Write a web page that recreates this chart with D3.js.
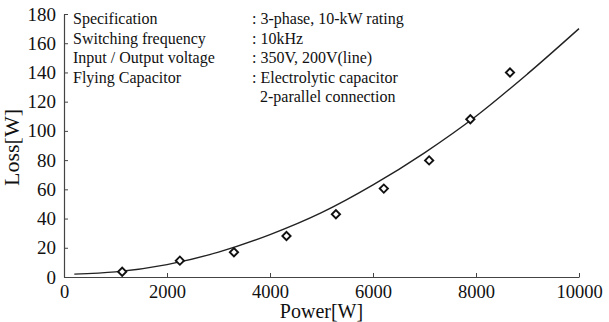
<!DOCTYPE html>
<html>
<head>
<meta charset="utf-8">
<script src="https://cdn.jsdelivr.net/npm/d3@7"></script>
<style>
  body { margin: 0; background: #fff; }
  text { font-family: "Liberation Serif", "Times New Roman", serif; fill: #111; }
</style>
</head>
<body>
<div id="chart"></div>
<script>

// measured points (diamonds)
var power_pts = [1130, 2250, 3300, 4320, 5280, 6210, 7090, 7890, 8660];
var loss_pts  = [3.6, 11.2, 16.9, 28.1, 42.9, 60.5, 79.8, 108, 140];

// calculated loss curve
var power_curve = [200, 1000, 2000, 3000, 4000, 5000, 6000, 7000, 8000, 9000, 10000];
var loss_curve  = [2, 3.5, 8.5, 17, 29, 44, 63, 85, 110, 139, 170];

var x_ticks = [0, 2000, 4000, 6000, 8000, 10000];
var y_ticks = [0, 20, 40, 60, 80, 100, 120, 140, 160, 180];

var spec_names  = ["Specification", "Switching frequency", "Input / Output voltage", "Flying Capacitor", ""];
var spec_values = [": 3-phase, 10-kW rating", ": 10kHz", ": 350V, 200V(line)", ": Electrolytic capacitor", "  2-parallel connection"];

var margin = {top: 14, right: 30, bottom: 45, left: 64},
    width = 609 - margin.left - margin.right,
    height = 322 - margin.top - margin.bottom;

var svg = d3.select("#chart").append("svg")
    .attr("width", 609)
    .attr("height", 322)
  .append("g")
    .attr("transform", "translate(" + margin.left + "," + margin.top + ")");

var x = d3.scaleLinear().domain([0, 10000]).range([0, width]);
var y = d3.scaleLinear().domain([0, 180]).range([height, 0]);

// axes, ticks pointing inward
var xAxis = svg.append("g")
    .attr("transform", "translate(0," + height + ")")
    .call(d3.axisBottom(x).tickValues(x_ticks).tickFormat(d3.format("d"))
      .tickSizeInner(-4).tickSizeOuter(0).tickPadding(8));

var yAxis = svg.append("g")
    .call(d3.axisLeft(y).tickValues(y_ticks).tickFormat(d3.format("d"))
      .tickSizeInner(-4).tickSizeOuter(0).tickPadding(8));

[xAxis, yAxis].forEach(function(a){
  a.select(".domain").attr("stroke", "#444").attr("stroke-width", 1.2);
  a.selectAll(".tick line").attr("stroke", "#444");
  a.selectAll(".tick text")
    .style("font-family", "'Liberation Serif', serif")
    .style("font-size", "19px")
    .attr("fill", "#111");
});
xAxis.selectAll(".tick text").style("font-size", "18.5px");

// axis titles
svg.append("text")
    .attr("x", width / 2)
    .attr("y", height + 41)
    .attr("text-anchor", "middle")
    .style("font-size", "20px")
    .text("Power[W]");

svg.append("text")
    .attr("transform", "translate(" + (-45) + "," + (height / 2 + 2) + ") rotate(-90)")
    .attr("text-anchor", "middle")
    .style("font-size", "22px")
    .text("Loss[W]");

// curve
var curve_data = power_curve.map(function(p, i){ return {power: p, loss: loss_curve[i]}; });

var line = d3.line()
    .x(function(d) { return x(d.power); })
    .y(function(d) { return y(d.loss); })
    .curve(d3.curveMonotoneX);

svg.append("path")
    .datum(curve_data)
    .attr("fill", "none")
    .attr("stroke", "#222")
    .attr("stroke-width", 1.4)
    .attr("d", line);

// diamonds
var pts = power_pts.map(function(p, i){ return {power: p, loss: loss_pts[i]}; });

svg.selectAll(".pt")
    .data(pts)
  .enter().append("path")
    .attr("class", "pt")
    .attr("d", d3.symbol().type(d3.symbolSquare).size(34))
    .attr("transform", function(d) { return "translate(" + x(d.power) + "," + y(d.loss) + ") rotate(45)"; })
    .attr("fill", "#fff")
    .attr("stroke", "#111")
    .attr("stroke-width", 1.9);

// spec notes
var notes = svg.append("g").style("font-size", "16px");

notes.selectAll(".name")
    .data(spec_names)
  .enter().append("text")
    .attr("x", 9)
    .attr("y", function(d, i) { return 10 + i * 19.5; })
    .text(function(d) { return d; });

notes.selectAll(".val")
    .data(spec_values)
  .enter().append("text")
    .attr("x", 188)
    .attr("y", function(d, i) { return 10 + i * 19.5; })
    .attr("xml:space", "preserve")
    .style("white-space", "pre")
    .text(function(d) { return d; });

</script>
</body>
</html>
